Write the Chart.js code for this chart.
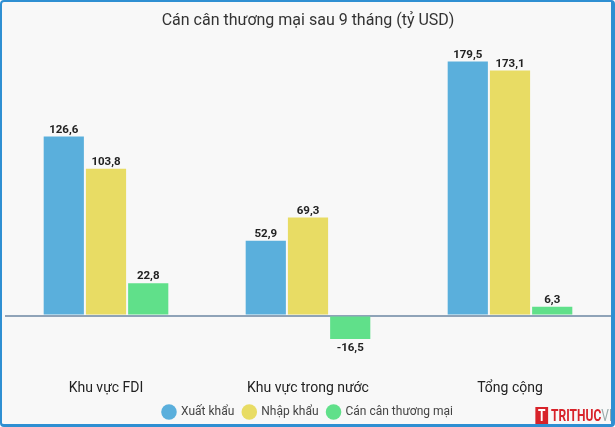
<!DOCTYPE html>
<html>
<head>
<meta charset="utf-8">
<script src="https://cdn.jsdelivr.net/npm/chart.js@4.4.0/dist/chart.umd.min.js"></script>
<style>
  html, body { margin: 0; padding: 0; background: #fff; }
  #wrap {
    position: relative;
    width: 615px; height: 427px;
    box-sizing: border-box;
    background: #f8f8f8;
    border-style: solid;
    border-color: #2e8fd2;
    border-width: 2px 4px 3px 2px;
    border-radius: 4px;
    overflow: hidden;
  }
  #chart { position: absolute; left: 0; top: 0; }
  #logo {
    position: absolute; right: -6px; bottom: 0;
    font-family: "Roboto", sans-serif; font-weight: bold;
    font-size: 16px; line-height: 17px;
    color: #d8232a; white-space: nowrap;
    transform: scaleX(0.75); transform-origin: right bottom;
  }
  #logo .box {
    display: inline-block; width: 17px; height: 17px; background: #d8232a;
    color: #fff; text-align: center; vertical-align: top; margin-right: 4px;
  }
  #logo .vn { color: #9aa; font-weight: normal; }
</style>
</head>
<body>
<div id="wrap">
  <canvas id="chart" width="609" height="426"></canvas>
  <div id="logo"><span class="box">T</span>TRITHUC<span class="vn">VN</span></div>
</div>
<script>
const categories = ['Khu vực FDI', 'Khu vực trong nước', 'Tổng cộng'];
const seriesNames = ['Xuất khẩu', 'Nhập khẩu', 'Cán cân thương mại'];
const exportValues = [126.6, 52.9, 179.5];
const importValues = [103.8, 69.3, 173.1];
const balanceValues = [22.8, -16.5, 6.3];
const seriesColors = ['#5aafdc', '#e8dc64', '#60e08a'];

const fmt = v => v.toFixed(1).replace('.', ',');

// vẽ nhãn giá trị trên/dưới cột
const valueLabels = {
  id: 'valueLabels',
  afterDatasetsDraw(chart) {
    const ctx = chart.ctx;
    ctx.save();
    ctx.font = 'bold 11.5px Roboto, sans-serif';
    ctx.fillStyle = '#222';
    ctx.textAlign = 'center';
    chart.data.datasets.forEach((ds, i) => {
      chart.getDatasetMeta(i).data.forEach((bar, j) => {
        const v = ds.data[j];
        if (v >= 0) {
          ctx.textBaseline = 'bottom';
          ctx.fillText(fmt(v), bar.x, bar.y - 1);
        } else {
          ctx.textBaseline = 'top';
          ctx.fillText(fmt(v), bar.x, bar.y + 3);
        }
      });
    });
    ctx.restore();
  }
};

new Chart(document.getElementById('chart'), {
  type: 'bar',
  data: {
    labels: categories,
    datasets: [
      { label: seriesNames[0], data: exportValues, backgroundColor: seriesColors[0] },
      { label: seriesNames[1], data: importValues, backgroundColor: seriesColors[1] },
      { label: seriesNames[2], data: balanceValues, backgroundColor: seriesColors[2] }
    ]
  },
  options: {
    responsive: false,
    animation: false,
    categoryPercentage: 0.627,
    barPercentage: 0.952,
    layout: { padding: { left: 3, right: 0, top: 0, bottom: 0 } },
    plugins: {
      title: {
        display: true,
        text: 'Cán cân thương mại sau 9 tháng (tỷ USD)',
        color: '#333',
        font: { family: 'Roboto', size: 16, weight: 'normal' },
        padding: { top: 9, bottom: 20 }
      },
      legend: {
        position: 'bottom',
        labels: {
          usePointStyle: true,
          pointStyle: 'circle',
          boxHeight: 11,
          padding: 9,
          color: '#444',
          font: { family: 'Roboto', size: 12 }
        }
      },
      tooltip: { enabled: false }
    },
    scales: {
      x: {
        grid: { display: false },
        border: { display: false },
        ticks: { color: '#222', font: { family: 'Roboto', size: 14 }, padding: 0 }
      },
      y: {
        min: -40,
        max: 187.5,
        border: { display: false },
        afterBuildTicks: scale => { scale.ticks = [{ value: 0 }]; },
        ticks: { display: false, padding: 0 },
        grid: { color: '#8fa3b8', lineWidth: 2, drawTicks: false }
      }
    }
  },
  plugins: [valueLabels]
});
</script>
</body>
</html>
